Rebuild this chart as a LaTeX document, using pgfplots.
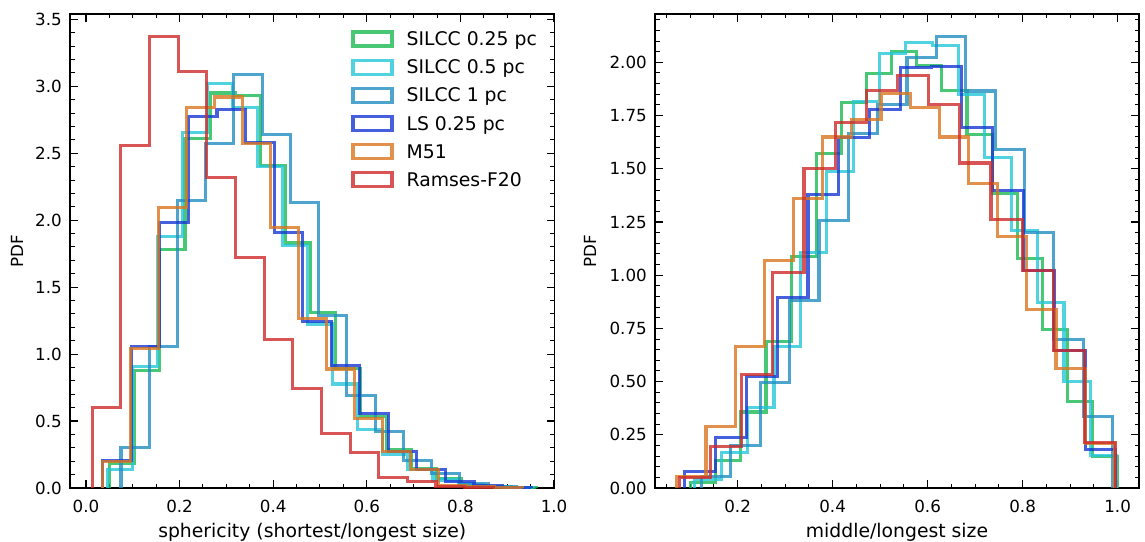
\documentclass[border=0pt]{standalone}
\usepackage{pgfplots}
\pgfplotsset{compat=1.18}
\usepackage{fontspec}
\setmainfont{DejaVu Sans}
\definecolor{cgreen}{RGB}{26,185,83}
\definecolor{ccyan}{RGB}{36,199,218}
\definecolor{csteel}{RGB}{33,143,193}
\definecolor{cblue}{RGB}{24,55,211}
\definecolor{corange}{RGB}{217,118,30}
\definecolor{cred}{RGB}{205,43,43}
\pgfplotsset{
  histstyle/.style={const plot, mark=none, line width=3.1pt, draw opacity=0.8, line join=miter},
  common/.style={
    scale only axis, height=474pt,
    ymin=0,
    axis line style={line width=1.2pt},
    major tick length=8pt, minor tick length=4.5pt,
    major tick style={line width=1.2pt, black},
    minor tick style={line width=1pt, black},
    tick align=inside,
    xtick pos=both, ytick pos=both,
    /pgf/number format/assume math mode=true,
    xticklabel style={font=\fontsize{16.7}{20}\selectfont, anchor=north, inner sep=0pt, yshift=-12pt,
      /pgf/number format/fixed, /pgf/number format/fixed zerofill, /pgf/number format/precision=1},
    yticklabel style={font=\fontsize{16.7}{20}\selectfont, anchor=east, inner sep=0pt, xshift=-8pt},
    xlabel style={at={([yshift=-49pt]axis description cs:0.5,0)}, anchor=base, inner sep=0pt, font=\fontsize{18.8}{22}\selectfont},
    ylabel style={anchor=center, inner sep=0pt, font=\fontsize{16.7}{20}\selectfont},
    minor xtick={0,0.05,0.1,0.15,0.2,0.25,0.3,0.35,0.4,0.45,0.5,0.55,0.6,0.65,0.7,0.75,0.8,0.85,0.9,0.95,1.0},
    xtick={0,0.2,0.4,0.6,0.8,1.0},
  }
}
\begin{document}
\begin{tikzpicture}
\useasboundingbox (0,0) rectangle (1145pt,541pt);
\begin{axis}[common,
  at={(70pt,53pt)}, anchor=south west, width=484.5pt,
  xmin=-0.034, xmax=1.001, ymax=3.54,
  ytick={0,0.5,1.0,1.5,2.0,2.5,3.0,3.5},
  minor ytick={0,0.1,0.2,0.3,0.4,0.5,0.6,0.7,0.8,0.9,1.0,1.1,1.2,1.3,1.4,1.5,1.6,1.7,1.8,1.9,2.0,2.1,2.2,2.3,2.4,2.5,2.6,2.7,2.8,2.9,3.0,3.1,3.2,3.3,3.4,3.5},
  yticklabel style={/pgf/number format/fixed, /pgf/number format/fixed zerofill, /pgf/number format/precision=1},
  xlabel={sphericity (shortest/longest size)},
  ylabel={PDF},
  ylabel style={at={([xshift=-53pt]axis description cs:0,0.5)}},
  legend cell align=left,
  legend image code/.code={\draw[#1, line join=miter] (0pt,-7pt) rectangle (39pt,7pt);},
  legend style={at={(axis description cs:0.581,1)}, anchor=north west, yshift=-16.5pt,
    draw=none, fill=none, inner sep=0pt, outer sep=0pt, row sep=11pt,
    font=\fontsize{18.8}{22}\selectfont,
    nodes={inner sep=0pt, text height=15pt, text depth=1.5pt},
    /tikz/every odd column/.append style={column sep=13pt}},
]
\addplot[histstyle, color=cgreen] coordinates {(0.0505,0) (0.0505,0.185) (0.1042,0.877) (0.1579,1.78) (0.2116,2.61) (0.2653,2.95) (0.3190,2.93) (0.3727,2.41) (0.4264,1.83) (0.4801,1.31) (0.5338,0.895) (0.5875,0.533) (0.6412,0.284) (0.6949,0.147) (0.7486,0.072) (0.8023,0.022) (0.8560,0.01) (0.9097,0.005) (0.9634,0.005) (0.9634,0)};
\addlegendentry{SILCC 0.25 pc}
\addplot[histstyle, color=ccyan] coordinates {(0.046,0) (0.046,0.135) (0.0995,0.91) (0.153,1.88) (0.2065,2.655) (0.26,3.02) (0.3135,2.845) (0.367,2.40) (0.4205,1.81) (0.474,1.225) (0.5275,0.777) (0.581,0.44) (0.6345,0.254) (0.688,0.135) (0.7415,0.06) (0.795,0.025) (0.8485,0.01) (0.902,0.005) (0.9555,0.005) (0.9555,0)};
\addlegendentry{SILCC 0.5 pc}
\addplot[histstyle, color=csteel] coordinates {(0.075,0) (0.075,0.30) (0.1353,1.06) (0.1956,2.145) (0.2559,2.575) (0.3162,3.09) (0.3765,2.64) (0.4368,2.13) (0.4971,1.29) (0.5574,0.69) (0.6177,0.42) (0.678,0.204) (0.7383,0.105) (0.7986,0.035) (0.8589,0.012) (0.9192,0.012) (0.9192,0)};
\addlegendentry{SILCC 1 pc}
\addplot[histstyle, color=cblue] coordinates {(0.036,0) (0.036,0.204) (0.097,1.056) (0.158,1.985) (0.219,2.775) (0.28,2.83) (0.341,2.58) (0.402,1.91) (0.463,1.245) (0.524,0.915) (0.585,0.558) (0.646,0.272) (0.707,0.135) (0.768,0.047) (0.829,0.015) (0.89,0.005) (0.951,0.005) (0.951,0)};
\addlegendentry{LS 0.25 pc}
\addplot[histstyle, color=corange] coordinates {(0.036,0) (0.036,0.197) (0.0958,1.04) (0.1556,2.095) (0.2154,2.845) (0.2752,2.92) (0.335,2.57) (0.3948,1.945) (0.4546,1.263) (0.5144,0.889) (0.5742,0.52) (0.634,0.272) (0.6938,0.14) (0.7536,0.02) (0.8134,0.01) (0.8732,0.005) (0.933,0.005) (0.933,0)};
\addlegendentry{M51}
\addplot[histstyle, color=cred] coordinates {(0.0135,0) (0.0135,0.60) (0.0747,2.56) (0.1359,3.37) (0.1971,3.11) (0.2583,2.32) (0.3195,1.72) (0.3807,1.11) (0.4419,0.74) (0.5031,0.41) (0.5643,0.267) (0.6255,0.077) (0.6867,0.047) (0.7479,0.012) (0.8091,0.006) (0.8703,0.006) (0.8703,0)};
\addlegendentry{Ramses-F20}
\end{axis}
\begin{axis}[common,
  at={(655pt,53pt)}, anchor=south west, width=484pt,
  xmin=0.026, xmax=1.045, ymax=2.227,
  ytick={0,0.25,0.5,0.75,1.0,1.25,1.5,1.75,2.0},
  minor ytick={0,0.05,0.1,0.15,0.2,0.25,0.3,0.35,0.4,0.45,0.5,0.55,0.6,0.65,0.7,0.75,0.8,0.85,0.9,0.95,1.0,1.05,1.1,1.15,1.2,1.25,1.3,1.35,1.4,1.45,1.5,1.55,1.6,1.65,1.7,1.75,1.8,1.85,1.9,1.95,2.0,2.05,2.1,2.15,2.2},
  xtick={0.2,0.4,0.6,0.8,1.0},
  yticklabel style={/pgf/number format/fixed, /pgf/number format/fixed zerofill, /pgf/number format/precision=2},
  xlabel={middle/longest size},
  ylabel={PDF},
  ylabel style={at={([xshift=-65pt]axis description cs:0,0.5)}},
]
\addplot[histstyle, color=cgreen] coordinates {(0.101,0) (0.101,0.024) (0.1539,0.13) (0.2068,0.357) (0.2597,0.688) (0.3126,1.086) (0.3655,1.571) (0.4184,1.813) (0.4713,1.949) (0.5242,2.052) (0.5771,1.985) (0.63,1.868) (0.6829,1.661) (0.7358,1.383) (0.7887,1.079) (0.8416,0.743) (0.8945,0.407) (0.9474,0.146) (1.0003,0.146) (1.0003,0)};
\addplot[histstyle, color=ccyan] coordinates {(0.11,0) (0.11,0.039) (0.1655,0.167) (0.221,0.378) (0.2765,0.664) (0.332,1.105) (0.3875,1.485) (0.443,1.816) (0.4985,2.043) (0.554,2.094) (0.6095,2.079) (0.665,1.849) (0.7205,1.552) (0.776,1.208) (0.8315,0.871) (0.887,0.50) (0.9425,0.152) (0.998,0.152) (0.998,0)};
\addplot[histstyle, color=csteel] coordinates {(0.124,0) (0.124,0.055) (0.1858,0.20) (0.2476,0.496) (0.3094,0.883) (0.3712,1.258) (0.433,1.665) (0.4948,1.80) (0.5566,2.021) (0.6184,2.121) (0.6802,1.865) (0.742,1.59) (0.8038,1.199) (0.8656,0.699) (0.9274,0.336) (0.9892,0.336) (0.9892,0)};
\addplot[histstyle, color=cblue] coordinates {(0.089,0) (0.089,0.078) (0.1538,0.238) (0.2186,0.524) (0.2834,0.894) (0.3482,1.379) (0.413,1.646) (0.4778,1.777) (0.5426,1.974) (0.6074,1.982) (0.6722,1.693) (0.737,1.396) (0.8018,1.02) (0.8666,0.644) (0.9314,0.183) (0.9962,0.183) (0.9962,0)};
\addplot[histstyle, color=corange] coordinates {(0.072,0) (0.072,0.052) (0.1334,0.289) (0.1948,0.664) (0.2562,1.067) (0.3176,1.36) (0.379,1.649) (0.4404,1.73) (0.5018,1.855) (0.5632,1.787) (0.6246,1.649) (0.686,1.43) (0.7474,1.183) (0.8088,0.84) (0.8702,0.563) (0.9316,0.211) (0.993,0.211) (0.993,0)};
\addplot[histstyle, color=cred] coordinates {(0.077,0) (0.077,0.05) (0.1426,0.196) (0.2083,0.532) (0.2739,1.011) (0.3396,1.50) (0.4052,1.716) (0.4708,1.868) (0.5365,1.938) (0.6021,1.80) (0.6678,1.527) (0.7334,1.262) (0.799,1.02) (0.8647,0.644) (0.9303,0.214) (0.996,0.214) (0.996,0)};
\end{axis}
\end{tikzpicture}
\end{document}
